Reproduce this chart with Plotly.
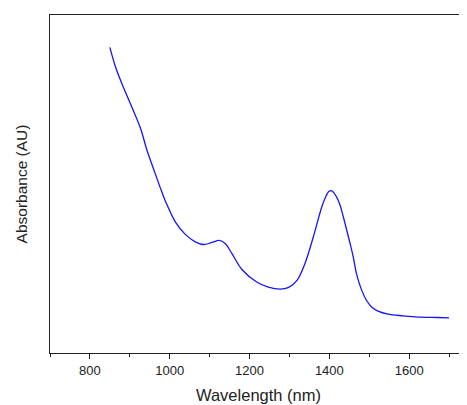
import plotly.graph_objects as go

wavelength_nm = [850, 864, 885, 910, 927, 943, 960, 976, 989, 1014, 1039, 1064, 1085, 1106,
                 1124, 1139, 1156, 1181, 1218, 1247, 1277, 1298, 1319, 1339, 1360,
                 1381, 1391, 1398, 1406, 1418, 1427, 1435, 1452, 1460, 1468, 1481,
                 1493, 1506, 1522, 1547, 1585, 1630, 1670, 1700]
absorbance = [0.904, 0.847, 0.783, 0.714, 0.664, 0.600, 0.543, 0.490, 0.450, 0.388, 0.351,
              0.329, 0.321, 0.327, 0.333, 0.324, 0.294, 0.247, 0.210, 0.195, 0.189,
              0.194, 0.215, 0.265, 0.344, 0.432, 0.462, 0.477, 0.480, 0.462, 0.437,
              0.403, 0.324, 0.284, 0.235, 0.186, 0.156, 0.136, 0.124, 0.115, 0.110,
              0.106, 0.105, 0.104]

x_ticks = [800, 1000, 1200, 1400, 1600]
x_tick_labels = ["800", "1000", "1200", "1400", "1600"]

font_family = "Liberation Sans, Arial, sans-serif"

fig = go.Figure()
fig.add_trace(go.Scatter(
    x=wavelength_nm, y=absorbance, mode="lines",
    line=dict(color="#1414ff", width=1.3, shape="spline", smoothing=1.0),
    showlegend=False,
))

# The page body has an 8px default margin, so the figure is sized/offset to compensate.
fig.update_layout(
    width=459, height=397,
    margin=dict(l=41.5, r=0, t=7, b=52.3),
    paper_bgcolor="white", plot_bgcolor="white",
    font=dict(family=font_family, color="#222222"),
    xaxis=dict(
        range=[700, 1745], automargin=False,
        tickmode="array", tickvals=x_ticks, ticktext=x_tick_labels,
        ticks="outside", ticklen=5, tickwidth=1, tickcolor="#222222",
        minor=dict(dtick=100, tick0=700, ticks="outside", ticklen=3, tickwidth=1, tickcolor="#222222"),
        showline=True, linecolor="#222222", linewidth=1.3, mirror=True,
        showgrid=False, zeroline=False,
        tickfont=dict(size=13, family=font_family),
        title=dict(text="Wavelength (nm)", font=dict(size=16.5, family=font_family), standoff=12),
    ),
    yaxis=dict(
        range=[0, 1.0], automargin=False,
        showticklabels=False, ticks="",
        showline=True, linecolor="#222222", linewidth=1.3,
        showgrid=False, zeroline=False,
        title=dict(text="Absorbance (AU)", font=dict(size=15.5, family=font_family), standoff=17),
    ),
)

fig.write_html("out.html")
